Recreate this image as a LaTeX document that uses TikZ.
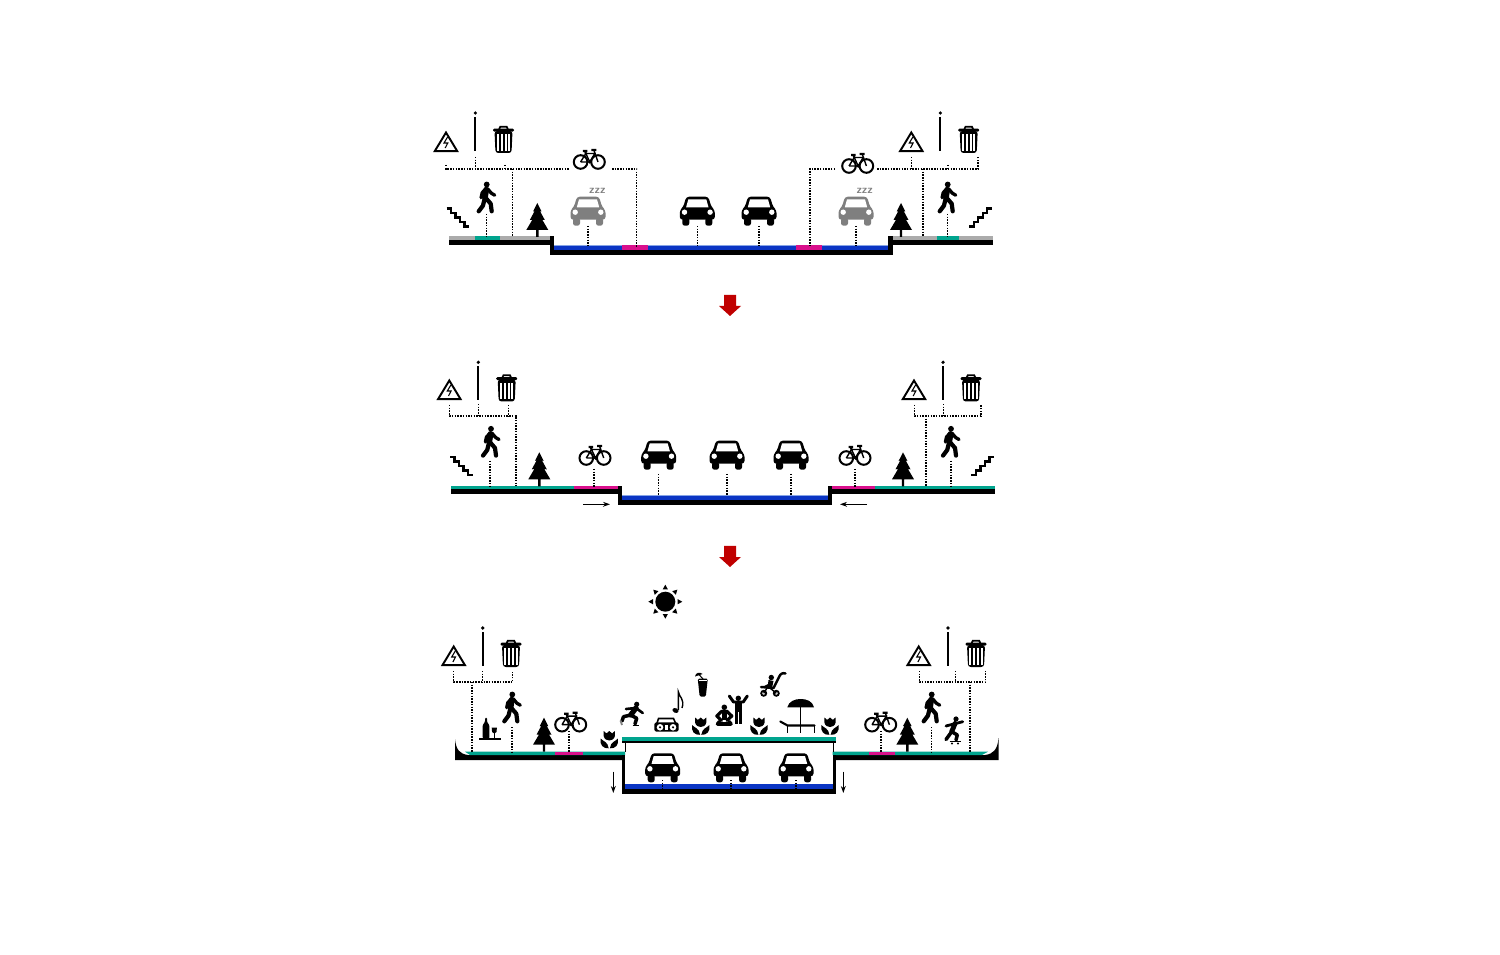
\documentclass[tikz,border=0pt]{standalone}
\usetikzlibrary{arrows.meta}
\definecolor{groundgray}{HTML}{ABABAB}
\definecolor{parkedgray}{HTML}{7F7F7F}
\definecolor{greenway}{HTML}{00A48E}
\definecolor{bikelane}{HTML}{D9108C}
\definecolor{roadblue}{HTML}{0B35C4}
\definecolor{roadedge}{HTML}{86A4E6}
\definecolor{flowred}{HTML}{C00000}

\tikzset{
    utility/.style={line width=0.85pt, dash pattern=on 0.85pt off 0.7pt},
    limb/.style={line width=#1, line cap=round, line join=round},
    limb/.default=1.6pt,
    thinarrow/.style={black, line width=0.55pt, -{Stealth[length=4pt, width=2.8pt]}},
    pics/car/.style={code={
        \fill[#1, rounded corners=1.6] (-11,0) -- (11,0) -- (14,10) -- (17.5,13.5) -- (17.5,23) -- (-17.5,23) -- (-17.5,13.5) -- (-14,10) -- cycle;
        \fill[#1, rounded corners=1.4] (-15,21) rectangle (-8,29);
        \fill[#1, rounded corners=1.4] (8,21) rectangle (15,29);
        \fill[white] (-9,2.7) -- (9,2.7) -- (11.2,10.6) -- (-11.2,10.6) -- cycle;
        \fill[white] (-12.8,15.5) circle (2.7);
        \fill[white] (12.8,15.5) circle (2.7);
    }},
    pics/bike/.style={code={
        \draw[line width=1.15pt] (-8.7,3) circle (6.8);
        \draw[line width=1.15pt] (8.7,3) circle (6.8);
        \draw[line width=0.8pt] (-8.7,3) -- (-3.5,-5.5) -- (5.5,-5.5) -- (0.5,3) -- (-3.5,-5.5) (0.5,3) -- (-8.7,3) (8.7,3) -- (4.5,-9);
        \draw[line width=1.2pt] (-6.5,-8) -- (-2,-8) (-3.5,-5.5) -- (-4.2,-8) (2,-9) -- (7,-9);
        \fill (0.5,3) circle (1.8);
    }},
    pics/walker/.style={code={
        \fill (0,2.8) circle (2.9);
        \draw[limb=3.3pt] (-0.5,8) -- (-1.8,16);
        \draw[limb=1.9pt] (-0.8,7) -- (-4.5,11) -- (-5.6,16);
        \draw[limb=1.9pt] (0.8,7) -- (4.6,11.5) -- (8,13.5);
        \draw[limb=2.4pt] (-1.8,16) -- (-3.8,24) -- (-8,29.6);
        \draw[limb=2.4pt] (-1.2,16) -- (4,22) -- (5,29.6);
    }},
    pics/stairs/.style={code={
        \draw[line width=1.3pt, miter limit=2] (0,0) -- (4.5,0) -- (4.5,4.5) -- (9,4.5) -- (9,9) -- (13.5,9) -- (13.5,13.5) -- (18,13.5) -- (18,18) -- (22.7,18);
    }},
    pics/fir/.style={code={
        \fill (0,0) -- (-4.3,8.5) -- (-2.8,8.3) -- (-7.5,17) -- (-5,16.8) -- (-11,27) -- (-1.2,27) -- (-1.2,34) -- (1.2,34) -- (1.2,27) -- (11,27) -- (5,16.8) -- (7.5,17) -- (2.8,8.3) -- (4.3,8.5) -- cycle;
    }},
    pics/bin/.style={code={
        \draw[line width=1pt] (-4.3,3) -- (-3.2,0.7) -- (3.2,0.7) -- (4.3,3);
        \fill[rounded corners=0.7] (-10.5,2.7) rectangle (10.5,5.6);
        \fill[rounded corners=1.6] (-9,5) -- (9,5) -- (8,27) -- (-8,27) -- cycle;
        \fill[white] (-6.7,8.3) rectangle (-4.7,24.6);
        \fill[white] (-3,8.3) rectangle (-1,24.6);
        \fill[white] (1,8.3) rectangle (3,24.6);
        \fill[white] (4.7,8.3) rectangle (6.7,24.6);
    }},
    pics/warnsign/.style={code={
        \draw[line width=1.1pt, line join=miter] (0,2) -- (11.2,20.6) -- (-11.2,20.6) -- cycle;
        \draw[line width=0.6pt] (1.6,6.5) -- (-2,12.5) -- (1.8,12.5) -- (-0.8,17.5);
    }},
    pics/pole/.style={code={
        \fill (0,0) circle (1.8);
        \draw[line width=1.05pt] (0,4) -- (0,38);
    }},
    pics/tulip/.style={code={
        \fill (-5.6,0) -- (-2.8,2.4) -- (0,0) -- (2.8,2.4) -- (5.6,0) -- (5.6,5) .. controls (5,8.5) and (2,9.5) .. (0,9.5) .. controls (-2,9.5) and (-5,8.5) .. (-5.6,5) -- cycle;
        \fill (-0.6,17.3) .. controls (-6,17.8) and (-9.8,14) .. (-8.6,7.6) .. controls (-6,10.5) and (-1.5,10.5) .. (-0.6,17.3) -- cycle;
        \fill (0.6,17.3) .. controls (6,17.8) and (9.8,14) .. (8.6,7.6) .. controls (6,10.5) and (1.5,10.5) .. (0.6,17.3) -- cycle;
    }},
    pics/flowarrow/.style={code={
        \fill[flowred] (-6,0) -- (6,0) -- (6,11) -- (11,11) -- (0,21) -- (-11,11) -- (-6,11) -- cycle;
    }},
}

\begin{document}
\begin{tikzpicture}[x=0.02cm, y=-0.02cm]
\useasboundingbox[fill=white] (0,0) rectangle (1500,955);

% ---------------- first section: parked cars and raised paths
\fill[groundgray] (449,236) rectangle (551,240);
\fill[groundgray] (892,236) rectangle (993,240);
\fill[greenway] (475,236) rectangle (500,240);
\fill[greenway] (937,236) rectangle (959,240);
\fill[black] (449,240) rectangle (554,245);
\fill[black] (888,240) rectangle (993,245);
\fill[black] (549.5,236) rectangle (554,255);
\fill[black] (888,236) rectangle (892.7,255);
\fill[black] (549.5,250) rectangle (892.7,255);
\fill[roadedge] (554,245) rectangle (888,246);
\fill[roadblue] (554,245.7) rectangle (888,250);
\fill[bikelane] (622,245) rectangle (648,250);
\fill[bikelane] (796,245) rectangle (822,250);

\draw[utility] (446,165) -- (446,169) -- (569,169);
\draw[utility] (475.5,157) -- (475.5,169);
\draw[utility] (505,165) -- (505,169);
\draw[utility] (512.7,169) -- (512.7,236);
\draw[utility] (612,169) -- (636.7,169) -- (636.7,247);
\draw[utility] (835,169) -- (810,169) -- (810,247);
\draw[utility] (877,169) -- (978,169) -- (978,157);
\draw[utility] (911.5,157) -- (911.5,169);
\draw[utility] (948,165) -- (948,169);
\draw[utility] (923,169) -- (923,236);
\foreach \x in {486.7, 947.7}{
    \draw[utility] (\x,214) -- (\x,236);
}
\foreach \x in {588, 697.3, 759, 856}{
    \draw[utility] (\x,226) -- (\x,246);
}

\pic at (446,130.5) {warnsign};
\pic at (911.3,130.5) {warnsign};
\pic at (475.3,113) {pole};
\pic at (940.3,113) {pole};
\pic at (503.5,126) {bin};
\pic at (968.7,126) {bin};
\pic at (589.3,159) {bike};
\pic at (857.7,163) {bike};
\pic at (486.7,181.7) {walker};
\pic at (947.7,181.7) {walker};
\pic at (446.5,208.5) {stairs};
\pic[xscale=-1] at (991.7,208.5) {stairs};
\pic at (537.3,203) {fir};
\pic at (901,203) {fir};
\pic at (588,196.7) {car=parkedgray};
\pic at (856,196.7) {car=parkedgray};
\pic at (697.3,196.7) {car=black};
\pic at (759,196.7) {car=black};
\node[font=\sffamily\bfseries\fontsize{6.5}{6.5}\selectfont, text=parkedgray, inner sep=0pt] (zzzleft) at (597.3,190.5) {zzz};
\node[font=\sffamily\bfseries\fontsize{6.5}{6.5}\selectfont, text=parkedgray, inner sep=0pt] (zzzright) at (864.7,190.5) {zzz};

\pic at (730,295) {flowarrow};

% ---------------- second section: narrowed road
\fill[greenway] (450.7,486) rectangle (574,489.5);
\fill[bikelane] (574,486) rectangle (617.5,489.5);
\fill[bikelane] (832,486) rectangle (875,489.5);
\fill[greenway] (875,486) rectangle (995,489.5);
\fill[black] (450.7,489.5) rectangle (621.7,494.5);
\fill[black] (828,489.5) rectangle (995,494.5);
\fill[black] (617.5,486) rectangle (621.7,505);
\fill[black] (828,486) rectangle (832,505);
\fill[black] (617.5,500) rectangle (832,505);
\fill[roadedge] (621.7,495) rectangle (828,496);
\fill[roadblue] (621.7,495.7) rectangle (828,500);
\draw[thinarrow] (583.3,504.3) -- (610,504.3);
\draw[thinarrow] (867,504.3) -- (840,504.3);

\draw[utility] (449.3,405) -- (449.3,416) -- (516,416) -- (516,486);
\draw[utility] (478.3,404) -- (478.3,416);
\draw[utility] (508.3,405) -- (508.3,416);
\draw[utility] (914.3,405) -- (914.3,416) -- (981,416) -- (981,405);
\draw[utility] (943.3,404) -- (943.3,416);
\draw[utility] (926,416) -- (926,486);
\foreach \x in {490, 951}{
    \draw[utility] (\x,461) -- (\x,486);
}
\foreach \x in {594, 855}{
    \draw[utility] (\x,469) -- (\x,487);
}
\foreach \x in {658.7, 727, 791}{
    \draw[utility] (\x,474) -- (\x,495);
}

\pic at (449.3,378.5) {warnsign};
\pic at (914,378.5) {warnsign};
\pic at (478.3,362.3) {pole};
\pic at (943,362.3) {pole};
\pic at (506.7,374.5) {bin};
\pic at (971,374.5) {bin};
\pic at (491,426) {walker};
\pic at (951,426) {walker};
\pic at (450,457) {stairs};
\pic[xscale=-1] at (994,457) {stairs};
\pic at (539.3,452.3) {fir};
\pic at (903,452.3) {fir};
\pic at (595,455) {bike};
\pic at (855,455) {bike};
\foreach \x in {658.7, 727, 791}{
    \pic at (\x,440.7) {car=black};
}

\pic at (730,546) {flowarrow};

% ---------------- third section: road under the park
\fill[black] (455,739) .. controls (456,750) and (460,754) .. (468,755) -- (622,755) -- (622,760) -- (455,760) -- cycle;
\fill[black] (998.5,738) .. controls (997.5,750) and (993,754) .. (985,755) -- (836,755) -- (836,760) -- (998.5,760) -- cycle;
\fill[greenway] (465,751.7) -- (625,751.7) -- (625,755) -- (470,755) -- cycle;
\fill[greenway] (832.7,751.7) -- (988,751.7) -- (982,755) -- (832.7,755) -- cycle;
\fill[bikelane] (555,751.7) rectangle (583,755);
\fill[bikelane] (869,751.7) rectangle (895,755);

\fill[greenway] (621.7,737.3) rectangle (836,741);
\fill[black] (621.7,741) rectangle (836,743.2);
\draw[black, line width=0.5pt] (625,743) -- (625,752);
\draw[black, line width=0.5pt] (833,743) -- (833,752);
\fill[black] (621.7,755) rectangle (625,794);
\fill[black] (832.7,755) rectangle (836,794);
\fill[black] (621.7,789.3) rectangle (836,794);
\fill[roadblue] (625,784) rectangle (832.7,789.3);
\draw[thinarrow] (613.3,771.7) -- (613.3,793);
\draw[thinarrow] (843.3,771.7) -- (843.3,793);

\draw[utility] (453.7,671) -- (453.7,682) -- (512.7,682) -- (512.7,671);
\draw[utility] (482.7,671) -- (482.7,682);
\draw[utility] (472,682) -- (472,752);
\draw[utility] (919.3,671) -- (919.3,682) -- (985.7,682) -- (985.7,671);
\draw[utility] (955.3,671) -- (955.3,682);
\draw[utility] (970,682) -- (970,752);
\foreach \x in {512, 931.7}{
    \draw[utility] (\x,727) -- (\x,752);
}
\foreach \x in {569, 881}{
    \draw[utility] (\x,731) -- (\x,752);
}
\foreach \x in {662.7, 731, 796}{
    \draw[utility] (\x,780) -- (\x,789);
    \pic at (\x,753.3) {car=black};
}

\pic at (453.7,644.5) {warnsign};
\pic at (918.7,644.5) {warnsign};
\pic at (482.7,628) {pole};
\pic at (948,628) {pole};
\pic at (511,640) {bin};
\pic at (976,640) {bin};
\pic at (512.3,691.7) {walker};
\pic at (931.7,691.7) {walker};
\pic at (544,717.7) {fir};
\pic at (907.3,717.7) {fir};
\pic at (570.7,721.7) {bike};
\pic at (880.7,721.7) {bike};
\foreach \x/\y in {609.3/731, 700.7/717.5, 759/717.5, 830/717.5}{
    \pic at (\x,\y) {tulip};
}

% sun
\fill[black] (665.3,601.7) circle (10);
\foreach \a in {0,45,...,315}{
    \fill[black, shift={(665.3,601.7)}, rotate=\a] (12.3,-2.6) -- (17,0) -- (12.3,2.6) -- cycle;
}

% bottle and glass
\fill[black, rounded corners=0.6] (482.7,738.5) -- (482.7,725) -- (485,722) -- (485,717.7) -- (487,717.7) -- (487,722) -- (489.3,725) -- (489.3,738.5) -- cycle;
\fill[black] (491.7,727.7) -- (496.9,727.7) -- (496.5,732) -- (494.3,733.5) -- (492.1,732) -- cycle;
\draw[line width=0.6pt] (494.3,733) -- (494.3,738.5);
\draw[line width=0.9pt] (479,738.8) -- (500.7,738.8);

% skater on inline skates
\fill (636.7,704.3) circle (2.6);
\draw[limb=3pt] (636,708) -- (630.7,715);
\draw[limb=1.5pt] (626,709) -- (631,708.5) -- (636,708) -- (642.7,713);
\draw[limb=2pt] (630.7,715) -- (623.5,716.7) -- (622,721);
\draw[limb=2pt] (630.7,715) -- (636.7,718.3) -- (635,724);
\draw[line width=0.8pt] (632.5,725.7) -- (639,725.7);
\draw[parkedgray, line width=1pt] (620.5,720.5) -- (622,725);

% boombox and note
\draw[line width=0.9pt] (657,723) -- (658.5,718.5) -- (673.5,718.5) -- (675.5,723);
\fill[rounded corners=1] (654.3,722.3) rectangle (678.7,731.7);
\fill[white] (660,727.3) circle (3.3);
\fill[white] (673,727.3) circle (3.3);
\fill (660,727.3) circle (1.2);
\fill (673,727.3) circle (1.2);
\fill[white] (664.8,725) rectangle (668.2,729.5);
\fill[rotate around={-25:(675.5,710.5)}] (675.5,710.5) ellipse (3.2 and 2.3);
\draw[line width=0.8pt] (678.3,710) -- (678.3,691.7) .. controls (679,697) and (685,699) .. (682,708);

% drink
\fill[rounded corners=0.8] (697.7,678.6) -- (707.8,678.6) -- (705.8,696.7) -- (699.7,696.7) -- cycle;
\fill[white] (698.7,680.2) rectangle (706.8,681);
\fill (695,676.5) .. controls (695.5,672.5) and (700,671.5) .. (702.5,674) -- cycle;
\draw[line width=0.6pt] (698.5,674) -- (703,679);

% sitting figure
\fill (724.3,707.3) circle (2.8);
\fill (721.8,710) rectangle (726.8,720);
\draw[limb=1.8pt] (722,711) -- (716.8,716) -- (721.5,720.5);
\draw[limb=1.8pt] (726.5,711) -- (731.8,716) -- (727,720.5);
\draw[limb=2pt] (719.5,721.5) -- (717.5,724) -- (731,724) -- (729,721.5);

% figure with raised arms
\fill (738.3,698.3) circle (2.7);
\draw[limb=1.7pt] (729.3,696) -- (733.5,702) -- (743.2,702) -- (747.3,696);
\fill (734.8,702) rectangle (741.8,712);
\fill (734.8,711) rectangle (737.9,724.3);
\fill (738.7,711) rectangle (741.8,724.3);

% stroller
\draw[line width=1.05pt] (763.7,693.3) circle (2.5);
\draw[line width=1.05pt] (776.3,693.3) circle (2.5);
\fill (771.3,677.5) circle (2.7);
\draw[limb=1.4pt] (785.5,673.5) .. controls (782,672.5) and (780.5,674) .. (779,677) -- (773.5,688) -- (761,687);
\fill (768.5,680) -- (773.5,681) -- (772,688) -- (761,687.5) -- (768,684) -- cycle;
\draw[line width=0.8pt] (767,688) -- (763.7,693.3) (770,688) -- (776.3,693.3);

% umbrella, table and lounger
\fill (787.3,707.3) .. controls (789,701) and (795,699) .. (800.7,699) .. controls (806.5,699) and (812.5,701) .. (814,707.3) -- cycle;
\draw[line width=0.8pt] (800.7,707) -- (800.7,733);
\draw[limb=1.2pt] (780.3,721.5) -- (787.5,725.5) -- (814.5,725.5);
\draw[line width=1.1pt] (787.5,725.5) -- (787.5,733) (814.5,725.5) -- (814.5,733);

% skateboarder
\fill (956,719) circle (2.6);
\draw[limb=1.6pt] (946,726) -- (962.7,721.7);
\draw[limb=2.8pt] (955,723.5) -- (951.7,731.7);
\draw[limb=2pt] (951.7,731.7) -- (946,739.5);
\draw[limb=2pt] (951.7,731.7) -- (957.3,735) -- (956,740);
\draw[line width=0.9pt] (949.5,741.7) -- (960.5,741.7);
\fill (952,743.5) circle (1.1);
\fill (958,743.5) circle (1.1);
\end{tikzpicture}
\end{document}
